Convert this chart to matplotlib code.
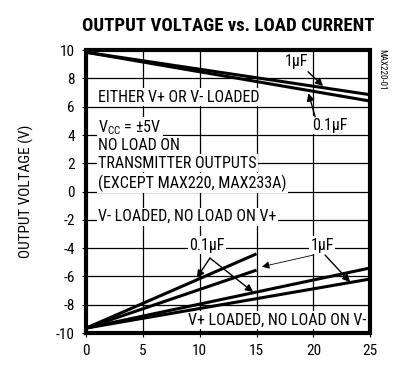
import numpy as np
import matplotlib
matplotlib.use("Agg")
import matplotlib.pyplot as plt

plt.rcParams['font.family'] = ['Roboto Condensed', 'DejaVu Sans']
plt.rcParams['mathtext.fontset'] = 'custom'
plt.rcParams['mathtext.rm'] = 'Roboto Condensed'
plt.rcParams['axes.unicode_minus'] = False

# load current (mA) / output voltage (V)
top_1uF_x = [0, 25]
top_1uF_y = [9.85, 6.85]
top_01uF_x = [0, 25]
top_01uF_y = [9.85, 6.4]

# V+ loaded, no load on V-  (bottom group)
bot_01uF_a_x = [0, 15]
bot_01uF_a_y = [-9.65, -4.4]
bot_1uF_a_x = [0, 15]
bot_1uF_a_y = [-9.65, -5.55]
bot_01uF_b_x = [0, 25]
bot_01uF_b_y = [-9.65, -5.4]
bot_1uF_b_x = [0, 25]
bot_1uF_b_y = [-9.65, -6.18]

xticks = [0, 5, 10, 15, 20, 25]
yticks = [-10, -8, -6, -4, -2, 0, 2, 4, 6, 8, 10]

fig = plt.figure(figsize=(3.95, 3.66), dpi=100)
ax = fig.add_axes([0.218, 0.09, 0.719, 0.773])

ax.set_xlim(0, 25)
ax.set_ylim(-10, 10)
ax.set_xticks(xticks)
ax.set_yticks(yticks)
ax.tick_params(labelsize=11, length=3, width=0.8, pad=5)
for s in ax.spines.values():
    s.set_visible(False)
ax.set_ylabel("OUTPUT VOLTAGE (V)", fontsize=11, labelpad=16)

x0, x1 = xticks[0], xticks[-1]
y0, y1 = yticks[0], yticks[-1]
# grid in data coordinates
for xv in xticks[1:-1]:
    ax.plot([xv, xv], [y0, y1], color='black', lw=0.9, zorder=1)
for yv in yticks[1:-1]:
    ax.plot([x0, x1], [yv, yv], color='black', lw=0.9, zorder=1)
# heavy frame
ax.plot([x0, x1, x1, x0, x0], [y0, y0, y1, y1, y0], color='black', lw=3,
        solid_joinstyle='miter', clip_on=False, zorder=6)

lw = 2.2
for xs, ys in [(top_1uF_x, top_1uF_y), (top_01uF_x, top_01uF_y),
               (bot_01uF_a_x, bot_01uF_a_y), (bot_1uF_a_x, bot_1uF_a_y),
               (bot_01uF_b_x, bot_01uF_b_y), (bot_1uF_b_x, bot_1uF_b_y)]:
    ax.plot(xs, ys, color='black', lw=lw, solid_capstyle='butt', zorder=4)

fs = 11.5
box = dict(facecolor='white', edgecolor='none', pad=1)
tkw = dict(fontsize=fs, ha='left', va='center', bbox=box, zorder=3)
ax.text(1.06, 6.68, "EITHER V+ OR V- LOADED", **tkw)
ax.text(1.06, 4.49, r"V$_{\mathrm{CC}}$ = ±5V", **tkw)
ax.text(1.06, 3.29, "NO LOAD ON", **tkw)
ax.text(1.06, 2.0, "TRANSMITTER OUTPUTS", **tkw)
ax.text(1.06, 0.58, "(EXCEPT MAX220, MAX233A)", **tkw)
ax.text(1.06, -1.78, "V- LOADED, NO LOAD ON V+", **tkw)
ax.text(24.7, -9.08, "V+ LOADED, NO LOAD ON V-", fontsize=fs, ha='right',
        va='center', bbox=box, zorder=3)

akw = dict(arrowstyle='-|>', color='black', lw=1.0, mutation_scale=11,
           shrinkA=0, shrinkB=0)
# top labels
ax.text(18.55, 9.17, "1μF", fontsize=fs, ha='center', va='center', bbox=box, zorder=3)
ax.annotate("", xy=(20.86, 7.46), xytext=(19.54, 8.47), arrowprops=akw, zorder=5)
ax.text(21.48, 4.70, "0.1μF", fontsize=fs, ha='center', va='center', bbox=box, zorder=3)
ax.annotate("", xy=(19.57, 6.95), xytext=(20.16, 5.29), arrowprops=akw, zorder=5)
# bottom labels
ax.text(10.65, -3.78, "0.1μF", fontsize=fs, ha='center', va='center', bbox=box, zorder=3)
ax.annotate("", xy=(9.74, -6.1), xytext=(10.9, -4.7), arrowprops=akw, zorder=5)
ax.annotate("", xy=(14.7, -7.1), xytext=(10.9, -4.7), arrowprops=akw, zorder=5)
ax.text(20.77, -3.78, "1μF", fontsize=fs, ha='center', va='center', bbox=box, zorder=3)
thin = dict(akw, lw=0.6)
ax.annotate("", xy=(15.47, -5.31), xytext=(19.98, -4.49), arrowprops=thin, zorder=5)
ax.annotate("", xy=(23.24, -6.4), xytext=(21.04, -4.49), arrowprops=akw, zorder=5)

fig.text(0.578, 0.93, "OUTPUT VOLTAGE vs. LOAD CURRENT", fontsize=13.5,
         fontweight='bold', ha='center', va='center')
fig.text(0.967, 0.81, "MAX220-01", fontsize=6.5, rotation=270, ha='center', va='center')

fig.savefig("out.png", dpi=100)
